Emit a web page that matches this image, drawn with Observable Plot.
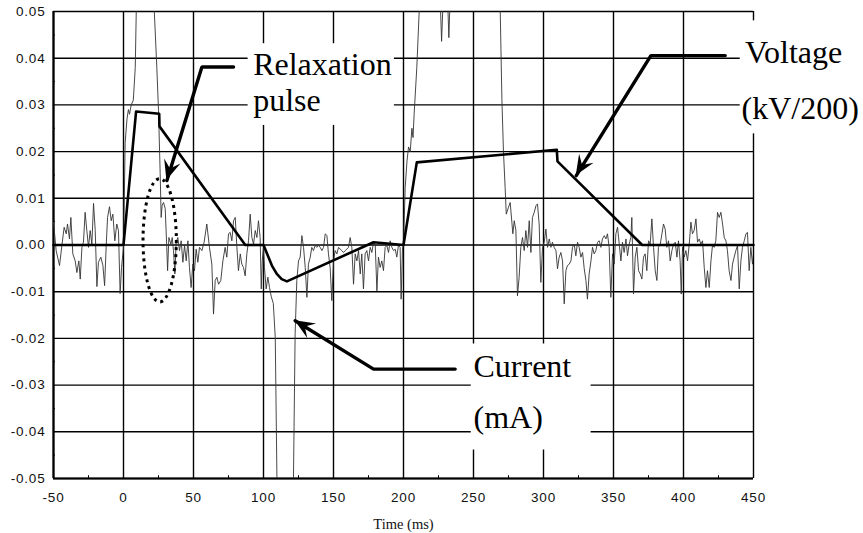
<!DOCTYPE html>
<html><head><meta charset="utf-8">
<script src="https://cdn.jsdelivr.net/npm/d3@7"></script>
<script src="https://cdn.jsdelivr.net/npm/@observablehq/plot@0.6"></script>
<style>body{margin:0;background:#fff} svg{display:block}</style>
</head><body><div id="chart"></div>
<script>
// ---- axis ticks ----
const xTicks = [-50, 0, 50, 100, 150, 200, 250, 300, 350, 400, 450];
const xTickLabels = ["-50", "0", "50", "100", "150", "200", "250", "300", "350", "400", "450"];
const yTicks = [-0.05, -0.04, -0.03, -0.02, -0.01, 0, 0.01, 0.02, 0.03, 0.04, 0.05];
const yTickLabels = ["-0.05", "-0.04", "-0.03", "-0.02", "-0.01", "0.00", "0.01", "0.02", "0.03", "0.04", "0.05"];
const xMinor = [-25, 25, 75, 125, 175, 225, 275, 325, 375, 425];
const yMinor = [-0.045, -0.035, -0.025, -0.015, -0.005, 0.005, 0.015, 0.025, 0.035, 0.045];
const xTitle = "Time (ms)";

// ---- voltage (kV/200) ----
const voltageT = [-50, 0, 9, 25.5, 25.7, 87, 100, 106, 109.5, 113, 116.7, 178.6, 200, 209.5, 309.5, 310, 370.5, 450];
const voltageV = [0, 0, 0.0286, 0.0281, 0.0254, 0, 0, -0.0044, -0.0062, -0.0073, -0.0078, 0.0006, 0, 0.0177, 0.0204, 0.0179, 0, 0];

// ---- current (mA) ----
const currentT = [-50.0,-48.1,-45.7,-44.0,-42.4,-40.9,-40.0,-38.6,-37.6,-36.2,-34.5,-33.3,-31.9,-30.9,-29.7,-28.6,-27.4,-26.2,-25.0,-23.8,-22.6,-21.4,-20.2,-19.0,-17.9,-16.2,-14.7,-13.5,-12.4,-11.4,-10.0,-8.8,-7.6,-6.2,-4.8,-3.6,-2.4,-1.4,
0.0,1.2,2.5,3.5,4.3,5.5,7.0,8.4,9.6,12,20,22.0,23.8,25.0,26.2,26.9,27.6,28.6,29.8,30.9,31.5,32.4,33.9,34.8,35.7,36.7,37.6,38.8,40.0,41.2,42.4,43.6,44.8,46.0,47.1,48.3,49.5,50.7,51.9,53.1,54.3,
56.0,57.6,59.5,61.4,63.1,64.3,65.5,66.7,67.9,69.5,71.0,72.6,73.8,75.0,76.2,77.4,78.6,79.8,81.0,82.1,83.4,84.5,85.7,86.9,88.1,89.3,90.5,91.7,92.9,94.1,95.3,96.4,97.6,98.4,99.1,100.0,100.7,101.9,103.1,104.3,105.5,107.0,108.4,109.6,111,120,121.4,122.6,123.8,
125.0,126.2,127.4,128.6,129.8,131.0,132.1,133.4,134.5,135.7,136.9,138.1,139.3,140.5,141.7,142.9,144.1,145.3,146.4,147.6,148.8,150.0,151.2,152.4,153.6,154.8,156.0,157.1,158.4,159.5,160.7,161.9,163.1,164.3,165.5,166.7,167.9,169.1,170.2,171.4,172.6,173.8,175.0,176.2,177.4,178.6,179.8,181.0,182.1,183.3,184.5,185.7,186.9,188.1,189.3,190.5,191.7,192.9,194.1,195.2,196.4,197.6,198.3,199.3,
200.0,201.2,202.5,203.6,204.8,206.0,206.8,207.6,209.5,211.2,213,225,226.5,227.2,228,229,231,231.8,232.4,233,234,267,269.1,270.3,271.4,272.6,273.4,275.0,276.2,277.4,278.1,279.1,280.3,281.4,282.6,283.8,285.0,286.2,287.4,288.6,289.8,291.0,292.1,293.4,294.6,295.7,296.9,298.1,299.3,
300.5,301.7,302.9,304.1,305.3,306.4,307.6,308.9,310.0,311.2,312.4,313.6,314.8,316.0,317.1,318.4,319.6,320.7,321.9,323.1,324.3,325.5,326.7,327.9,329.1,330.3,331.4,332.6,333.9,335.0,336.2,337.4,338.6,339.8,341.0,342.1,343.4,344.6,345.7,346.9,348.1,349.3,350.5,351.7,352.9,354.1,355.3,356.4,357.6,358.9,360.0,361.2,362.4,
363.1,364.3,365.5,366.7,367.9,369.1,370.3,371.4,372.6,373.8,375.0,376.2,377.4,378.6,379.8,381.0,382.1,383.4,384.6,385.7,386.9,388.1,389.3,390.5,391.7,392.9,394.1,395.3,396.4,397.6,398.4,399.3,400.5,401.7,402.9,404.1,405.3,406.4,407.6,408.9,410.0,411.2,412.4,413.6,414.8,416.0,417.1,418.4,419.6,420.7,421.9,423.1,424.3,425.5,426.7,427.9,429.1,430.3,431.4,432.6,433.9,435.0,436.2,437.4,438.6,439.8,441.0,442.1,443.4,444.6,445.7,446.9,448.1,449.3,450.0];
const currentV = [0.0049,-0.0012,-0.0044,-0.0001,0.0038,0.0024,0.0045,0.0013,0.0059,-0.0019,-0.0034,-0.0059,-0.0034,-0.0073,-0.0005,0.0006,0.0070,0.0031,-0.0005,0.0031,0.0002,0.0089,0.0031,-0.0089,-0.0037,-0.0026,-0.0044,-0.0087,-0.0005,0.0059,0.0082,0.0052,0.0066,0.0009,0.0045,0.0031,-0.0104,-0.0048,
-0.0005,0.022,0.027,0.029,0.028,0.030,0.031,0.038,0.058,0.075,0.075,0.050,0.038,0.0288,0.0153,0.0059,0.0085,0.0091,0.0078,-0.0005,-0.0055,0.0016,0.0002,0.0016,-0.0012,-0.0062,0.0006,0.0016,-0.0012,0.0009,-0.0037,-0.0001,-0.0034,0.0009,-0.0048,-0.0091,-0.0041,-0.0055,-0.0009,-0.0037,-0.0005,
-0.0012,0.0006,0.0045,-0.0005,-0.0041,-0.0148,-0.0076,-0.0069,-0.0084,-0.0076,-0.0034,-0.0005,-0.0026,0.0024,0.0027,0.0009,0.0052,0.0059,-0.0005,-0.0055,-0.0019,-0.0041,-0.0048,-0.0066,-0.0019,0.0009,0.0066,0.0016,0.0002,0.0031,0.0016,0.0052,0.0016,-0.0094,-0.0034,-0.0005,-0.0048,-0.0094,-0.0069,-0.0091,-0.0110,-0.0125,-0.0198,-0.050,-0.070,-0.070,-0.050,-0.019,-0.0076,
-0.0034,-0.0026,0.0020,-0.0005,-0.0048,-0.0112,-0.0041,-0.0026,-0.0005,-0.0012,-0.0001,-0.0005,-0.0001,-0.0005,-0.0012,-0.0005,0.0024,0.0020,-0.0019,-0.0048,-0.0119,-0.0034,-0.0012,-0.0019,-0.0005,-0.0009,-0.0012,-0.0016,-0.0012,-0.0009,-0.0005,0.0016,-0.0005,-0.0084,-0.0019,-0.0034,-0.0012,-0.0062,-0.0019,-0.0094,-0.0019,-0.0012,-0.0034,-0.0005,-0.0016,0.0006,0.0002,-0.0098,-0.0026,-0.0048,-0.0034,-0.0055,-0.0005,-0.0001,-0.0016,0.0009,-0.0005,-0.0012,-0.0009,-0.0026,-0.0001,-0.0005,-0.0116,-0.0005,
0.0000,0.0123,0.018,0.021,0.020,0.025,0.023,0.028,0.038,0.050,0.075,0.075,0.050,0.0436,0.050,0.075,0.075,0.050,0.0444,0.050,0.075,0.075,0.050,0.031,0.020,0.0123,0.0066,0.0081,0.0091,0.0049,0.0024,0.0052,0.0031,-0.0109,-0.0069,-0.0005,0.0016,-0.0012,0.0031,-0.0005,0.0052,-0.0016,0.0059,0.0070,0.0084,0.0088,0.0045,-0.0080,-0.0005,
0.0006,0.0034,-0.0005,0.0013,-0.0005,0.0006,-0.0005,-0.0012,-0.0051,-0.0026,-0.0016,-0.0034,-0.0126,-0.0055,-0.0044,-0.0041,-0.0034,-0.0005,0.0002,-0.0023,0.0006,-0.0005,-0.0026,-0.0016,-0.0051,-0.0076,-0.0116,-0.0062,-0.0034,-0.0005,-0.0019,-0.0012,0.0006,0.0009,-0.0005,0.0013,0.0020,0.0013,0.0024,-0.0005,-0.0112,-0.0019,-0.0041,0.0024,0.0038,0.0002,-0.0034,0.0006,-0.0016,0.0013,-0.0023,0.0002,0.0016,
0.0059,-0.0105,-0.0026,-0.0005,-0.0055,-0.0062,-0.0073,-0.0026,-0.0019,-0.0055,0.0009,0.0002,0.0056,-0.0005,-0.0055,-0.0076,-0.0005,0.0002,0.0024,0.0045,0.0034,-0.0005,0.0009,-0.0034,-0.0012,0.0002,0.0006,-0.0026,0.0009,-0.0034,-0.0105,-0.0005,-0.0026,-0.0012,-0.0034,0.0002,0.0049,0.0024,0.0031,0.0056,0.0006,0.0013,0.0002,0.0009,-0.0048,-0.0091,-0.0055,-0.0091,-0.0034,-0.0001,-0.0005,0.0009,0.0070,0.0059,0.0070,0.0045,0.0016,0.0009,-0.0012,-0.0055,-0.0076,-0.0041,-0.0026,-0.0012,-0.0001,-0.0094,-0.0034,-0.0005,0.0009,0.0024,0.0027,-0.0055,-0.0005,-0.0041,-0.0020];

// ---- annotation texts ----
const labelTexts = ["Relaxation", "pulse", "Voltage", "(kV/200)", "Current", "(mA)"];

// tables built from the arrays
const voltage = voltageT.map((t, i) => ({t, v: voltageV[i]}));
const current = currentT.map((t, i) => ({t, v: currentV[i]}));
const xTable = xTicks.map((v, i) => ({v, label: xTickLabels[i]}));
const yTable = yTicks.map((v, i) => ({v, label: yTickLabels[i]}));

// annotation layout (in data units)
const boxes = [
  {x1: 89, x2: 193.5, y1: 0.0256, y2: 0.0431},
  {x1: 440.5, x2: 535, y1: 0.0238, y2: 0.048},
  {x1: 248.4, x2: 334, y1: -0.0439, y2: -0.0212}
];
const labels = [
  {x: 92.6, y: 0.0365, text: labelTexts[0]},
  {x: 92.6, y: 0.0288, text: labelTexts[1]},
  {x: 444, y: 0.0390, text: labelTexts[2]},
  {x: 441.5, y: 0.0270, text: labelTexts[3]},
  {x: 250, y: -0.0282, text: labelTexts[4]},
  {x: 250, y: -0.0391, text: labelTexts[5]}
];
// leader polylines: horizontal run, then diagonal to the arrow tip
const arrowPaths = [
  [[78.6, 0.0381], [56, 0.0381], [31, 0.0138]],
  [[429.8, 0.04056], [376.7, 0.04056], [323.4, 0.01485]],
  [[236.9, -0.02657], [178.6, -0.02657], [122.6, -0.01622]]
];
const arrowRows = arrowPaths.flatMap((p, k) => p.map(([x, y]) => ({k, x, y})));

const sans = "Liberation Sans, Arial, Helvetica, sans-serif";
const serif = "Liberation Serif, Times New Roman, serif";

const plot = Plot.plot({
  width: 863,
  height: 533,
  marginLeft: 53,
  marginRight: 110,
  marginTop: 11,
  marginBottom: 55,
  x: {domain: [-50, 450], axis: null},
  y: {domain: [-0.05, 0.05], axis: null},
  style: {background: "white", overflow: "visible"},
  marks: [
    Plot.ruleY(yTicks, {stroke: "#000", strokeWidth: 1.4}),
    Plot.ruleX(xTicks, {y1: -0.05, y2: 0.05, stroke: "#000", strokeWidth: 1.4}),
    Plot.ruleX(xMinor, {y1: -0.05, y2: -0.0494, stroke: "#000", strokeWidth: 1}),
    Plot.ruleY(yMinor, {x1: -50, x2: -48.6, stroke: "#000", strokeWidth: 1}),
    Plot.rect(boxes, {x1: "x1", x2: "x2", y1: "y1", y2: "y2", fill: "white"}),
    Plot.ruleX([-50], {y1: -0.05, y2: 0.05, stroke: "#000", strokeWidth: 2.2}),
    Plot.ruleY([-0.05], {stroke: "#000", strokeWidth: 2.2}),
    Plot.line(current, {x: "t", y: "v", stroke: "#333", strokeWidth: 0.9, clip: true}),
    Plot.line(voltage, {x: "t", y: "v", stroke: "#000", strokeWidth: 2.6, strokeLinejoin: "round"}),
    Plot.line(arrowRows, {x: "x", y: "y", z: "k", stroke: "#000", strokeWidth: 3.4, strokeLinejoin: "miter", curve: "linear"}),
    Plot.text(labels, {x: "x", y: "y", text: "text", textAnchor: "start", lineAnchor: "bottom", fontFamily: serif, fontSize: 32, fill: "#000"}),
    Plot.text(yTable, {x: -50, y: "v", text: "label", textAnchor: "end", dx: -8, fontFamily: sans, fontSize: 13.5, fill: "#111"}),
    Plot.text(xTable, {x: "v", y: -0.05, text: "label", lineAnchor: "bottom", dy: 23, fontFamily: sans, fontSize: 13.5, fill: "#111"}),
    Plot.text([xTitle], {x: 200, y: -0.05, text: d => d, lineAnchor: "bottom", dy: 50, fontFamily: serif, fontSize: 14.5, fill: "#111"})
  ]
});

const sx = plot.scale("x"), sy = plot.scale("y");
const fx = d3.scaleLinear(sx.domain, sx.range);
const fy = d3.scaleLinear(sy.domain, sy.range);
const svg = d3.select(plot);

// arrowheads at the end of each leader, oriented along the last segment
for (const p of arrowPaths) {
  const [a, b] = p.slice(-2);
  const X1 = fx(a[0]), Y1 = fy(a[1]), X2 = fx(b[0]), Y2 = fy(b[1]);
  const ang = Math.atan2(Y2 - Y1, X2 - X1);
  const ux = Math.cos(ang), uy = Math.sin(ang), nx = -uy, ny = ux;
  const L = 20, W = 8.5, N = 12;
  const bx = X2 - ux * L, by = Y2 - uy * L;
  const pts = [[X2, Y2], [bx + nx * W, by + ny * W], [X2 - ux * N, Y2 - uy * N], [bx - nx * W, by - ny * W]];
  svg.append("path").attr("d", "M" + pts.map(q => q.join(",")).join("L") + "Z").attr("fill", "#000");
}

// dotted ellipse marking the relaxation pulse
const ell = {cx: 26.2, cy: 0.0009, rx: 11.9, ry: 0.0132};
svg.append("ellipse")
  .attr("cx", fx(ell.cx)).attr("cy", fy(ell.cy))
  .attr("rx", fx(ell.cx + ell.rx) - fx(ell.cx))
  .attr("ry", fy(ell.cy - ell.ry) - fy(ell.cy))
  .attr("fill", "none").attr("stroke", "#000").attr("stroke-width", 3)
  .attr("stroke-dasharray", "3,4");

svg.selectAll("text").each(function () {
  const g = this.closest("[font-family]");
  if (g && g.getAttribute("font-family").startsWith("Liberation Sans")) this.setAttribute("letter-spacing", "0.8px");
});

document.getElementById("chart").appendChild(plot);
</script>
</body></html>
